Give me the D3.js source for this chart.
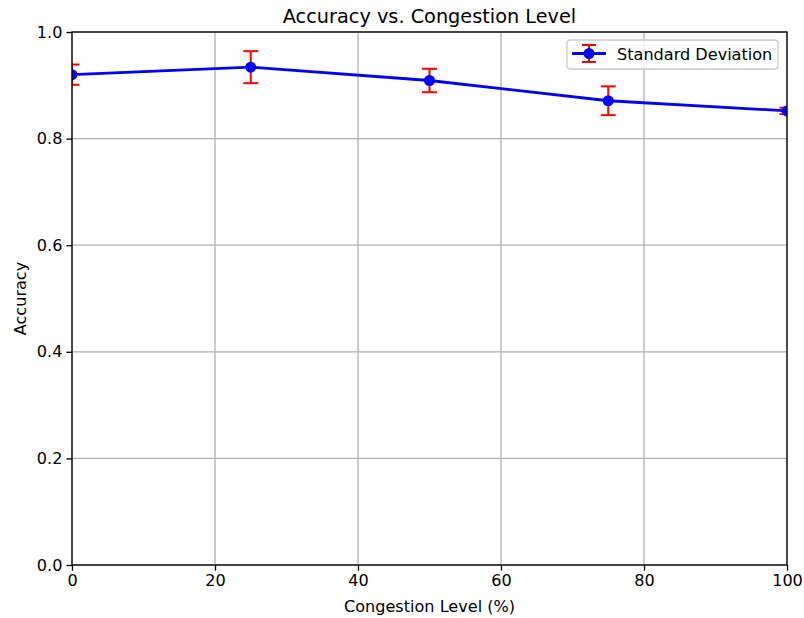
<!DOCTYPE html>
<html>
<head>
<meta charset="utf-8">
<script src="https://cdn.jsdelivr.net/npm/d3@7"></script>
<style>
  body { margin: 0; background: #fff; }
  svg { font-family: "DejaVu Sans", sans-serif; }
</style>
</head>
<body>
<svg width="804" height="618"></svg>
<script>
const congestion = [0, 25, 50, 75, 100];
const accuracy = [0.920, 0.934, 0.909, 0.871, 0.852];
const stdDev = [0.019, 0.030, 0.022, 0.027, 0.006];
const xTicks = [0, 20, 40, 60, 80, 100];
const yTicks = [0.0, 0.2, 0.4, 0.6, 0.8, 1.0];

const svg = d3.select("svg");
const margin = { left: 72, right: 17, top: 32, bottom: 53 };
const width = 804, height = 618;
const fs = 16.1;

const x = d3.scaleLinear().domain([0, 100]).range([margin.left, width - margin.right]);
const y = d3.scaleLinear().domain([0, 1]).range([height - margin.bottom, margin.top]);

// --- GRID ---
svg.append("g")
  .selectAll("line.gx")
  .data(xTicks)
  .enter().append("line")
  .attr("x1", d => x(d)).attr("x2", d => x(d))
  .attr("y1", y(0)).attr("y2", y(1))
  .attr("stroke", "#b0b0b0").attr("stroke-width", 1.3);

svg.append("g")
  .selectAll("line.gy")
  .data(yTicks)
  .enter().append("line")
  .attr("x1", x(0)).attr("x2", x(100))
  .attr("y1", d => y(d)).attr("y2", d => y(d))
  .attr("stroke", "#b0b0b0").attr("stroke-width", 1.3);

// --- AXES ---
const xAxis = svg.append("g")
  .attr("transform", `translate(0,${y(0)})`)
  .call(d3.axisBottom(x).tickValues(xTicks).tickSize(5.6).tickPadding(4).tickFormat(d3.format("d")));
const yAxis = svg.append("g")
  .attr("transform", `translate(${x(0)},0)`)
  .call(d3.axisLeft(y).tickValues(yTicks).tickSize(5.6).tickPadding(4).tickFormat(d3.format(".1f")));

[xAxis, yAxis].forEach(a => {
  a.select(".domain").remove();
  a.selectAll("text").attr("font-size", fs).attr("fill", "#000").attr("font-family", "DejaVu Sans");
  a.selectAll("line").attr("stroke", "#000").attr("stroke-width", 1.3);
});

// --- DATA (clipped to axes) ---
svg.append("clipPath").attr("id", "clip")
  .append("rect")
  .attr("x", x(0)).attr("y", y(1))
  .attr("width", x(100) - x(0)).attr("height", y(0) - y(1));

const plot = svg.append("g").attr("clip-path", "url(#clip)");
const pts = congestion.map((c, i) => ({ c, a: accuracy[i], s: stdDev[i] }));
const cap = 7.5;

const eb = plot.append("g").selectAll("g").data(pts).enter().append("g")
  .attr("stroke", "red").attr("stroke-width", 2).attr("fill", "none");
eb.append("line")
  .attr("x1", d => x(d.c)).attr("x2", d => x(d.c))
  .attr("y1", d => y(d.a - d.s)).attr("y2", d => y(d.a + d.s));
eb.append("line")
  .attr("x1", d => x(d.c) - cap).attr("x2", d => x(d.c) + cap)
  .attr("y1", d => y(d.a + d.s)).attr("y2", d => y(d.a + d.s));
eb.append("line")
  .attr("x1", d => x(d.c) - cap).attr("x2", d => x(d.c) + cap)
  .attr("y1", d => y(d.a - d.s)).attr("y2", d => y(d.a - d.s));

plot.append("path")
  .datum(pts)
  .attr("d", d3.line().x(d => x(d.c)).y(d => y(d.a)))
  .attr("fill", "none").attr("stroke", "blue").attr("stroke-width", 2.8);

plot.selectAll("circle").data(pts).enter().append("circle")
  .attr("cx", d => x(d.c)).attr("cy", d => y(d.a))
  .attr("r", 5.5).attr("fill", "blue");

// --- FRAME ---
svg.append("rect")
  .attr("x", x(0)).attr("y", y(1))
  .attr("width", x(100) - x(0)).attr("height", y(0) - y(1))
  .attr("fill", "none").attr("stroke", "#000").attr("stroke-width", 1.3);

// --- TEXT ---
svg.append("text").attr("x", (x(0) + x(100)) / 2).attr("y", 23)
  .attr("text-anchor", "middle").attr("font-size", 19.3).text("Accuracy vs. Congestion Level");
svg.append("text").attr("x", (x(0) + x(100)) / 2).attr("y", 612)
  .attr("text-anchor", "middle").attr("font-size", fs).text("Congestion Level (%)");
svg.append("text")
  .attr("transform", `translate(26,${(y(0) + y(1)) / 2}) rotate(-90)`)
  .attr("text-anchor", "middle").attr("font-size", fs).text("Accuracy");

// --- LEGEND ---
const lg = svg.append("g").attr("transform", "translate(567,40)");
lg.append("rect").attr("width", 211).attr("height", 29).attr("rx", 3)
  .attr("fill", "white").attr("fill-opacity", 0.8).attr("stroke", "#cccccc").attr("stroke-width", 1.3);
lg.append("line").attr("x1", 22).attr("x2", 22).attr("y1", 5).attr("y2", 22)
  .attr("stroke", "red").attr("stroke-width", 2);
lg.append("line").attr("x1", 15).attr("x2", 29).attr("y1", 5).attr("y2", 5)
  .attr("stroke", "red").attr("stroke-width", 2);
lg.append("line").attr("x1", 15).attr("x2", 29).attr("y1", 22).attr("y2", 22)
  .attr("stroke", "red").attr("stroke-width", 2);
lg.append("line").attr("x1", 5).attr("x2", 39).attr("y1", 13.5).attr("y2", 13.5)
  .attr("stroke", "blue").attr("stroke-width", 2.8);
lg.append("circle").attr("cx", 22).attr("cy", 13.5).attr("r", 5.5).attr("fill", "blue");
lg.append("text").attr("x", 50).attr("y", 19.5).attr("font-size", fs).text("Standard Deviation");
</script>
</body>
</html>
